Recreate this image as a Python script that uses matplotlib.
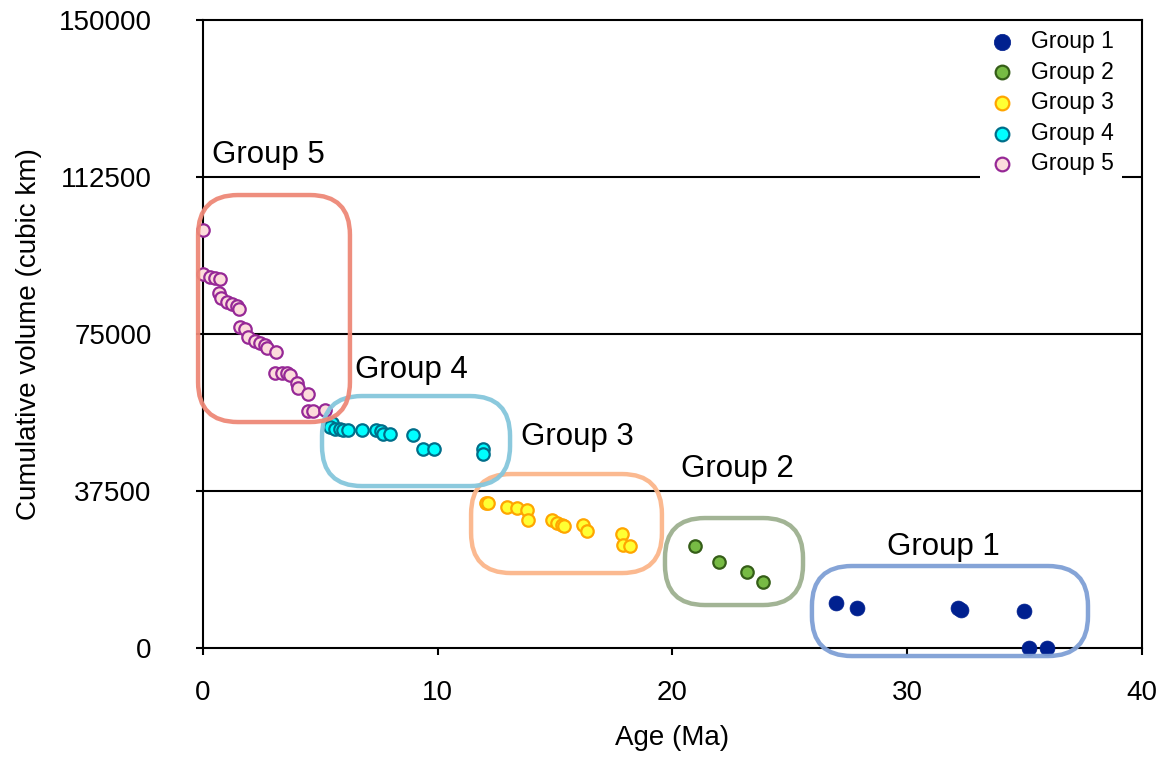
import numpy as np
import matplotlib
matplotlib.use("Agg")
import matplotlib.pyplot as plt
from matplotlib.patches import FancyBboxPatch

plt.rcParams['font.family'] = ['Liberation Sans', 'DejaVu Sans']

# ages (Ma) and cumulative volumes (cubic km)
g1_age = [26.97, 27.87, 32.15, 32.27, 34.97, 35.19, 35.97]
g1_vol = [10830, 9630, 9630, 9080, 8910, 0, 0]

g2_age = [20.96, 21.98, 23.19, 23.87]
g2_vol = [24360, 20460, 18070, 15690]

g3_age = [12.06, 12.15, 12.97, 13.36, 13.79, 13.86, 14.85, 15.06, 15.28, 15.39,
          16.17, 16.37, 17.86, 17.91, 18.19]
g3_vol = [34710, 34710, 33750, 33440, 32960, 30570, 30570, 29790, 29380, 29220,
          29380, 27950, 27150, 24600, 24360]

g4_age = [5.48, 5.41, 5.62, 5.84, 5.98, 6.19, 6.76, 7.37, 7.57, 7.65, 7.97, 8.96,
          9.39, 9.86, 11.94, 11.94]
g4_vol = [53820, 52870, 52230, 52230, 52070, 52070, 52070, 52070, 51830, 51040,
          51040, 50870, 47530, 47530, 47460, 46340]

g5_age = [0.0, 0.0, 0.30, 0.51, 0.72, 0.70, 0.75, 1.01, 1.22, 1.43, 1.55, 1.58,
          1.79, 1.93, 2.22, 2.43, 2.64, 2.71, 3.11, 3.07, 3.35, 3.56, 3.71, 4.02,
          4.06, 4.49, 4.49, 4.70, 5.20]
g5_vol = [99840, 89260, 88690, 88300, 88060, 84870, 83520, 82720, 82170, 81690,
          80970, 76750, 76200, 74360, 73330, 72920, 72370, 71580, 70780, 65760,
          65760, 65610, 65210, 63370, 62030, 60670, 56680, 56680, 56840]

names = ['Group 1', 'Group 2', 'Group 3', 'Group 4', 'Group 5']

# outline boxes: (xmin, xmax, ymin, ymax) in data units
box_x0 = [25.94, 19.68, 11.42, 5.07, -0.21]
box_x1 = [37.70, 25.56, 19.55, 13.08, 6.26]
box_y0 = [-1910, 10270, 17910, 38690, 53980]
box_y1 = [19590, 31050, 41560, 60190, 108200]

# group labels (left, baseline)
lab_x = [29.12, 20.35, 13.53, 6.47, 0.37]
lab_y = [22210, 40920, 48490, 64420, 115840]

fig = plt.figure(figsize=(11.66, 7.59), dpi=100)
ax = fig.add_axes([0.1741, 0.1462, 0.8053, 0.8274])

ax.set_xlim(0, 40)
ax.set_ylim(0, 150000)
ax.set_xticks([0, 10, 20, 30, 40])
ax.set_yticks([0, 37500, 75000, 112500, 150000])
ax.set_yticklabels(['0', '37500', '75000', '112500', '150000'])
for yv in [37500, 75000, 112500]:
    ax.axhline(yv, color='black', lw=1.5, zorder=1)
for sp in ax.spines.values():
    sp.set_linewidth(1.5)
ax.tick_params(axis='both', labelsize=20, width=1.5, length=5, direction='out')
ax.tick_params(axis='x', pad=18)
ax.tick_params(axis='y', pad=32)
ax.set_xlabel('Age (Ma)', fontsize=20, labelpad=14)
ax.set_ylabel('Cumulative volume (cubic km)', fontsize=20, labelpad=12)

ax.scatter(g1_age, g1_vol, s=115, c='#00208F', edgecolors='#00208F', linewidths=0.5,
           label=names[0], zorder=3, clip_on=False)
ax.scatter(g2_age, g2_vol, s=80, c='#77BB44', edgecolors='#355E18', linewidths=1.6,
           label=names[1], zorder=3)
ax.scatter(g3_age, g3_vol, s=80, c='#FFFF33', edgecolors='#FFA500', linewidths=1.6,
           label=names[2], zorder=3)
ax.scatter(g4_age, g4_vol, s=80, c='#00FFFF', edgecolors='#006E8A', linewidths=1.6,
           label=names[3], zorder=3)
ax.scatter(g5_age, g5_vol, s=80, c='#FCDCDC', edgecolors='#962896', linewidths=1.6,
           label=names[4], zorder=3, clip_on=False)

# rounded boxes, corner radius kept circular on screen
ax_w = fig.get_figwidth() * fig.dpi * 0.8053
ax_h = fig.get_figheight() * fig.dpi * 0.8274
aspect = (150000 / ax_h) / (40 / ax_w)
box_colors = ['#7F9FD5', '#9DB08F', '#FBB68A', '#85C6DC', '#EE8877']
for i in range(5):
    w = box_x1[i] - box_x0[i]
    h = box_y1[i] - box_y0[i]
    p = FancyBboxPatch((box_x0[i], box_y0[i]), w, h,
                       boxstyle='round,pad=0,rounding_size=1.7',
                       mutation_aspect=aspect, fill=False,
                       edgecolor=box_colors[i], lw=3.2, alpha=0.95,
                       zorder=4, clip_on=False)
    ax.add_patch(p)

for i in range(5):
    ax.text(lab_x[i], lab_y[i], names[i], fontsize=22.5, va='baseline', ha='left',
            zorder=5)

leg = ax.legend(loc='upper right', bbox_to_anchor=(0.979, 0.997), fontsize=16.5,
                frameon=True, fancybox=False, framealpha=1, edgecolor='none',
                facecolor='white', labelspacing=0.33, handletextpad=0.7,
                borderpad=0.35, handlelength=1.2, borderaxespad=0.0,
                markerscale=1.1)
leg.set_zorder(6)

fig.savefig('out.png', dpi=100)
